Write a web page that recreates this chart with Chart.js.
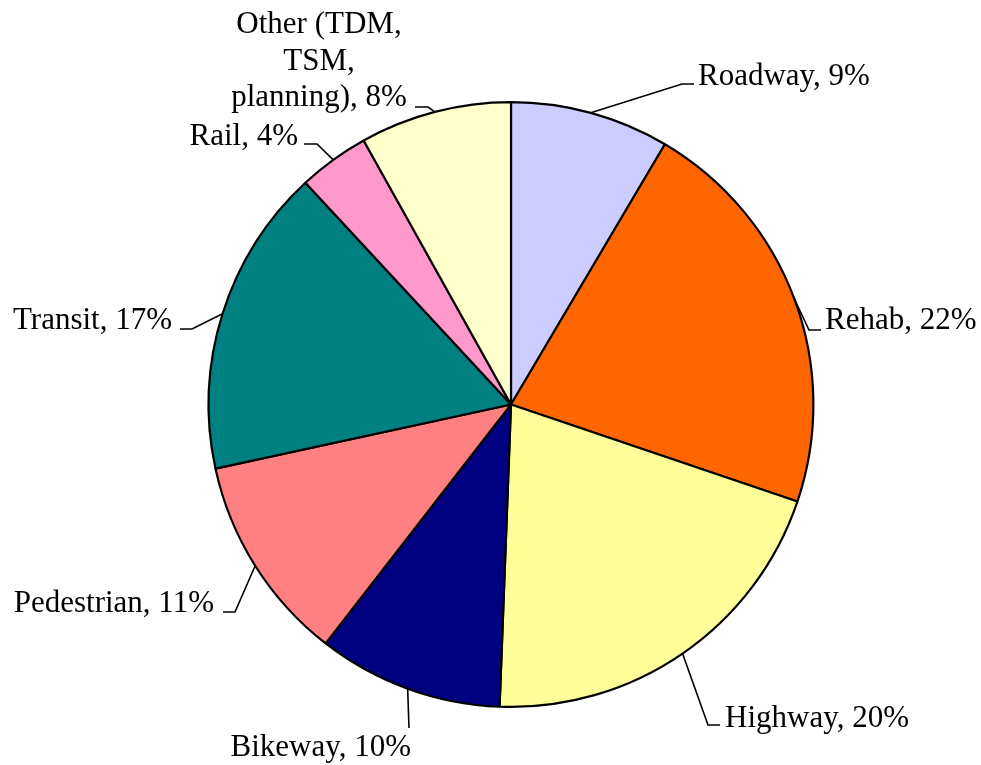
<!DOCTYPE html>
<html>
<head>
<meta charset="utf-8">
<script src="https://cdn.jsdelivr.net/npm/chart.js@4.4.1/dist/chart.umd.min.js"></script>
<style>
  body { margin: 0; background: #fff; }
  #wrap { width: 981px; height: 765px; }
</style>
</head>
<body>
<div id="wrap"><canvas id="pie"></canvas></div>
<script>
// data (clockwise from 12 o'clock)
const categories = ['Roadway', 'Rehab', 'Highway', 'Bikeway', 'Pedestrian', 'Transit', 'Rail', 'Other (TDM,\nTSM,\nplanning)'];
const shares = [8.5, 21.7, 20.4, 9.9, 11.1, 16.5, 3.8, 8.1];
const shownPercents = ['9%', '22%', '20%', '10%', '11%', '17%', '4%', '8%'];
const sliceColors = ['#CCCCFF', '#FF6600', '#FFFF99', '#000080', '#FF8080', '#008080', '#FF99CC', '#FFFFCC'];

// where each label sits: text anchor, elbow of the leader and end of its short tail
const labelSpots = [
    { x: 698, y: 85, align: 'left', elbow: [682, 84], tail: [694, 84] },
    { x: 825, y: 329, align: 'left', elbow: [809, 330], tail: [821, 330] },
    { x: 725, y: 727, align: 'left', elbow: [708, 725], tail: [720, 725] },
    { x: 411, y: 756, align: 'right', elbow: [409, 728], tail: null },
    { x: 214, y: 612, align: 'right', elbow: [235, 612], tail: [223, 612] },
    { x: 172, y: 329, align: 'right', elbow: [192, 329], tail: [180, 329] },
    { x: 298, y: 145, align: 'right', elbow: [317, 144], tail: [304, 144] },
    { x: 319, y: 106, align: 'center', elbow: [428, 107], tail: [415, 107] },
];

const labelFont = '31px "Liberation Serif", "Times New Roman", serif';
const lineGap = 36.5;

const leaderLabels = {
    id: 'leaderLabels',
    afterDatasetsDraw(chart) {
        const ctx = chart.ctx;
        const arcs = chart.getDatasetMeta(0).data;
        ctx.save();
        ctx.strokeStyle = '#000';
        ctx.lineWidth = 1.6;
        ctx.fillStyle = '#000';
        ctx.font = labelFont;
        ctx.textBaseline = 'alphabetic';
        arcs.forEach(function (arc, i) {
            const spot = labelSpots[i];
            const mid = (arc.startAngle + arc.endAngle) / 2;
            const ax = arc.x + arc.outerRadius * Math.cos(mid);
            const ay = arc.y + arc.outerRadius * Math.sin(mid);
            ctx.beginPath();
            ctx.moveTo(ax, ay);
            ctx.lineTo(spot.elbow[0], spot.elbow[1]);
            if (spot.tail) ctx.lineTo(spot.tail[0], spot.tail[1]);
            ctx.stroke();

            const lines = (categories[i] + ', ' + shownPercents[i]).split('\n');
            ctx.textAlign = spot.align;
            lines.forEach(function (line, k) {
                ctx.fillText(line, spot.x, spot.y - (lines.length - 1 - k) * lineGap);
            });
        });
        ctx.restore();
    }
};

new Chart(document.getElementById('pie').getContext('2d'), {
    type: 'pie',
    data: {
        labels: categories,
        datasets: [{
            data: shares,
            backgroundColor: sliceColors,
            borderColor: '#000',
            borderWidth: 2.2,
        }],
    },
    options: {
        responsive: true,
        maintainAspectRatio: false,
        animation: false,
        layout: { padding: { top: 101, bottom: 57, left: 100, right: 59 } },
        plugins: {
            legend: { display: false },
            tooltip: { enabled: false },
        },
    },
    plugins: [leaderLabels],
});
</script>
</body>
</html>
